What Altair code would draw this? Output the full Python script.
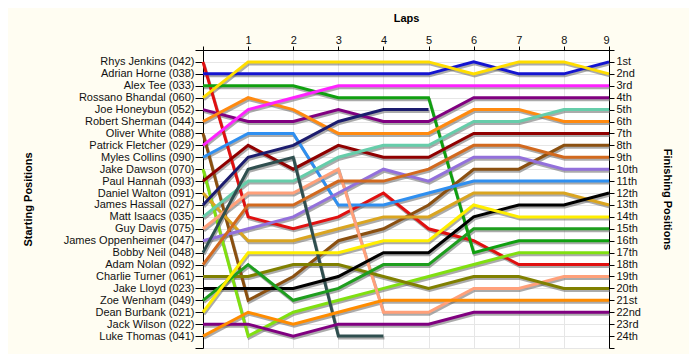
import json
import altair as alt
import pandas as pd

names = [
    "Rhys Jenkins (042)", "Adrian Horne (038)", "Alex Tee (033)", "Rossano Bhandal (060)",
    "Joe Honeybun (052)", "Robert Sherman (044)", "Oliver White (088)", "Patrick Fletcher (029)",
    "Myles Collins (090)", "Jake Dawson (070)", "Paul Hannah (093)", "Daniel Walton (091)",
    "James Hassall (027)", "Matt Isaacs (035)", "Guy Davis (075)", "James Oppenheimer (047)",
    "Bobby Neil (048)", "Adam Nolan (092)", "Charlie Turner (061)", "Jake Lloyd (023)",
    "Zoe Wenham (049)", "Dean Burbank (021)", "Jack Wilson (022)", "Luke Thomas (041)",
]
colors = [
    "#e01010", "#1414d0", "#10a010", "#ffdd00",
    "#800080", "#ff8a10", "#8b5010", "#ff22ff",
    "#2f8ff0", "#80e010", "#900000", "#daa520",
    "#1c1c6e", "#66cdaa", "#ffa07a", "#9370db",
    "#2f4f4f", "#d2691e", "#808000", "#000000",
    "#1e9e1e", "#ffee00", "#800080", "#ff8c00",
]
laps = list(range(10))
# position of each driver after each lap (lap 0 = start); None = retired
positions = [
    [1, 14, 15, 14, 12, 15, 16, 18, 18, 18],
    [2, 2, 2, 2, 2, 2, 1, 2, 2, 1],
    [3, 3, 3, 4, 4, 4, 17, 16, 16, 16],
    [4, 1, 1, 1, 1, 1, 2, 1, 1, 2],
    [5, 6, 6, 5, 6, 6, 4, 4, 4, 4],
    [6, 4, 5, 7, 7, 7, 5, 5, 6, 6],
    [7, 21, 19, 16, 15, 13, 10, 10, 8, 8],
    [8, 5, 4, 3, 3, 3, 3, 3, 3, 3],
    [9, 7, 7, 13, 13, 12, 11, 11, 11, 11],
    [10, 24, 22, 21, 20, 19, 18, 17, 17, 17],
    [11, 8, 10, 8, 9, 9, 7, 7, 7, 7],
    [12, 16, 16, 15, 14, 14, 12, 12, 12, 13],
    [13, 9, 8, 6, 5, 5, None, None, None, None],
    [14, 11, 11, 9, 8, 8, 6, 6, 5, 5],
    [15, 12, 12, 10, 22, 22, 20, 20, 19, 19],
    [16, 15, 14, 12, 10, 11, 9, 9, 10, 10],
    [17, 10, 9, 24, 24, None, None, None, None, None],
    [18, 13, 13, 11, 11, 10, 8, 8, 9, 9],
    [19, 19, 18, 18, 19, 20, 19, 19, 20, 20],
    [20, 20, 20, 19, 17, 17, 14, 13, 13, 12],
    [21, 18, 21, 20, 18, 18, 15, 15, 15, 15],
    [22, 17, 17, 17, 16, 16, 13, 14, 14, 14],
    [23, 23, 24, 23, 23, 23, 22, 22, 22, 22],
    [24, 22, 23, 22, 21, 21, 21, 21, 21, 21],
]
finish_labels = ["1st", "2nd", "3rd"] + [f"{i}th" for i in range(4, 21)] + ["21st", "22nd", "23rd", "24th"]

rows = []
for name, seq in zip(names, positions):
    for lap, p in zip(laps, seq):
        if p is not None:
            rows.append({"driver": name, "lap": lap, "pos": p})
df = pd.DataFrame(rows)

FONT = "Liberation Sans"
left_arr = json.dumps([""] + names + [""])
right_arr = json.dumps([""] + finish_labels + [""])
yvals = list(range(0, 26))

x_axis = alt.Axis(
    orient="top", values=laps, labelExpr="datum.value == 0 ? '' : datum.value",
    title="Laps", titleX=203, titleY=-32, titleBaseline="middle", titleAlign="center",
    grid=True, gridColor="#e6e6e6", tickSize=4, labelPadding=1,
    domainColor="#000", tickColor="#000",
)
x_enc = alt.X("lap:Q", scale=alt.Scale(domain=[0, 9], nice=False, zero=False), axis=x_axis)
yscale = alt.Scale(domain=[0, 25], reverse=True, nice=False, zero=False)

shadow = alt.Chart(df).mark_line(
    color="#666", opacity=0.55, strokeWidth=3, xOffset=1, yOffset=2
).encode(
    x=x_enc,
    y=alt.Y("pos:Q", scale=yscale, axis=alt.Axis(
        orient="left", values=yvals, labelExpr=f"{left_arr}[datum.value]",
        title="Starting Positions", titleX=-175, titleY=149, titleBaseline="middle",
        grid=True, gridColor="#e6e6e6", tickSize=8, labelPadding=1,
        domainColor="#000", tickColor="#000",
    )),
    detail="driver:N",
)

lines = alt.Chart(df).mark_line(strokeWidth=3).encode(
    x=x_enc,
    y=alt.Y("pos:Q", scale=yscale, axis=alt.Axis(
        orient="right", values=yvals, labelExpr=f"{right_arr}[datum.value]",
        title="Finishing Positions", titleX=57, titleY=149, titleBaseline="middle",
        grid=False, tickSize=5, labelPadding=2,
        domainColor="#000", tickColor="#000",
    )),
    color=alt.Color("driver:N", scale=alt.Scale(domain=names, range=colors), legend=None),
)

chart = alt.layer(shadow, lines).resolve_scale(y="independent").properties(
    width=406, height=298,
    autosize=alt.AutoSizeParams(type="none"),
    padding={"left": 195, "top": 42, "right": 80, "bottom": 6},
    background="#fffdf2",
).configure_view(
    stroke=None, fill="#ffffff"
).configure_axis(
    labelFont=FONT, labelFontSize=11, labelColor="#111",
    titleFont=FONT, titleFontSize=11, titleFontWeight="bold", titleColor="#000",
)

chart.save("out.html", embed_options={"renderer": "svg", "actions": False})
